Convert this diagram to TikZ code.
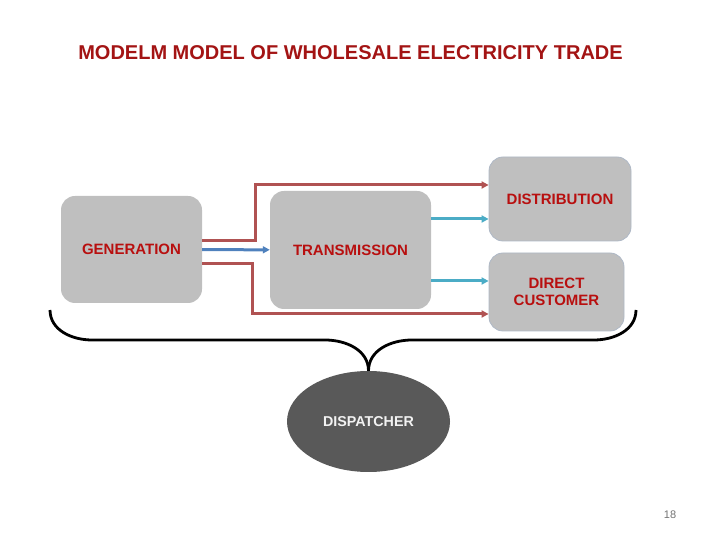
\documentclass[tikz,border=0pt]{standalone}
\usepackage{fontspec}
\setmainfont{Liberation Sans}
\usetikzlibrary{positioning,arrows.meta,shapes.geometric}

\definecolor{boxgray}{HTML}{BFBFBF}
\definecolor{boxedge}{HTML}{AEB8C6}
\definecolor{labelred}{HTML}{B80F0F}
\definecolor{titlered}{HTML}{A31414}
\definecolor{linered}{HTML}{B05252}
\definecolor{lineteal}{HTML}{4BACC6}
\definecolor{lineblue}{HTML}{4F81BD}
\definecolor{dispgray}{HTML}{595959}

\begin{document}
\begin{tikzpicture}[
  x=1pt, y=1pt,
  stage/.style ={rectangle, rounded corners=14pt, fill=boxgray, inner sep=2pt,
                 font=\fontsize{15}{17}\selectfont\bfseries, text=labelred,
                 align=center},
  sink/.style  ={stage, draw=boxedge, line width=0.8pt},
  disp/.style  ={ellipse, fill=dispgray, minimum width=163pt, minimum height=101pt,
                 font=\fontsize{14.3}{16}\selectfont\bfseries, text=white!95!black},
  flowred/.style ={draw=linered, line width=3pt,
                   -{Triangle[length=7pt,width=7pt]}},
  flowteal/.style={draw=lineteal, line width=3pt,
                   -{Triangle[length=7pt,width=7pt]}},
  flowblue/.style={draw=lineblue, line width=3pt,
                   -{Triangle[length=7pt,width=7pt]}},
  brace/.style   ={draw=black, line width=2.8pt},
]
\useasboundingbox (0,0) rectangle (720,540);

% ---------------- title ----------------
\node[font=\fontsize{20}{22}\selectfont\bfseries, text=titlered] (title)
  at (350.5,487) {MODELM MODEL OF WHOLESALE ELECTRICITY TRADE};

% ---------------- stages ----------------
\node[stage, minimum width=141pt, minimum height=107pt] (gen)   at (131.5,290.5) {GENERATION};
\node[stage, minimum width=161pt, minimum height=118pt] (trans) at (350.5,290)   {TRANSMISSION};
\node[sink,  minimum width=142pt, minimum height=84pt]  (dist)  at (560,341)     {DISTRIBUTION};
\node[sink,  minimum width=135pt, minimum height=78pt]  (cust)  at (556.5,248)   {DIRECT\\CUSTOMER};

\node[disp] (dispatcher) at (368.5,118.5) {DISPATCHER};

% ---------------- flows ----------------
\draw[flowblue] (gen) -- (trans);
\draw[flowred] ([yshift=8.5pt]gen.east) -- ++(53.5,0) |- ([yshift=14pt]dist.west);
\draw[flowred] ([yshift=-14.5pt]gen.east) -- ++(50,0) |- ([yshift=-22pt]cust.west);
\draw[flowteal] ([yshift=-20pt]dist.west -| trans.east) -- ([yshift=-20pt]dist.west);
\draw[flowteal] ([yshift=11pt]cust.west -| trans.east) -- ([yshift=11pt]cust.west);

% ---------------- brace to dispatcher ----------------
\coordinate (braceL) at (50,230);
\coordinate (braceR) at (636,230);
\draw[brace] (braceL) to[out=-90,in=180] ++(42,-30) -- ++(233,0)
  to[out=0,in=90] (dispatcher.north);
\draw[brace] (braceR) to[out=-90,in=0] ++(-42,-30) -- ++(-182,0)
  to[out=180,in=90] (dispatcher.north);

% ---------------- page number ----------------
\node[font=\fontsize{11}{12}\selectfont, text=black!55] (page) at (670,25) {18};

\end{tikzpicture}
\end{document}
